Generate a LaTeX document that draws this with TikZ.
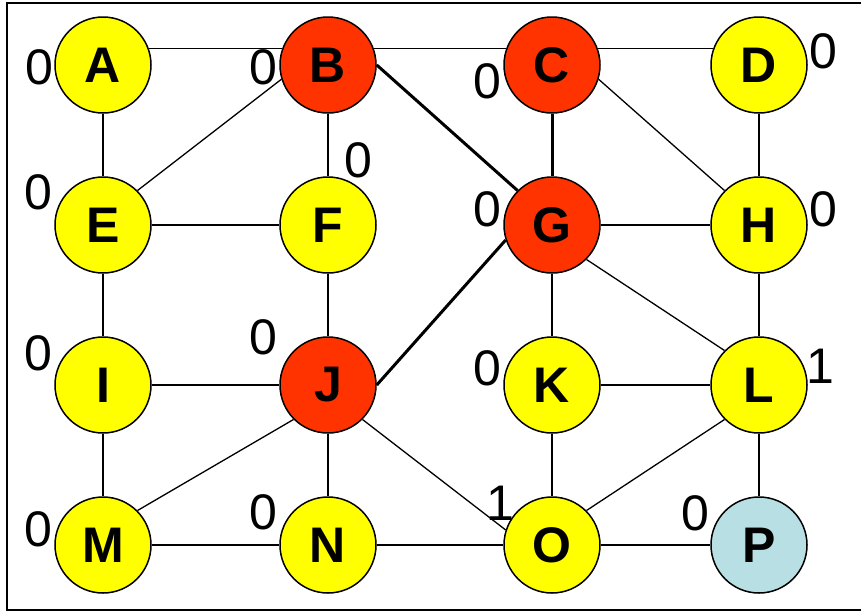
\documentclass[tikz,border=0pt]{standalone}
\usepackage{fontspec}
\setmainfont{Liberation Sans}
\usepackage{tikz}
\usetikzlibrary{positioning}

\definecolor{vyellow}{HTML}{FFFF00}
\definecolor{vred}{HTML}{FF3300}
\definecolor{vblue}{HTML}{B8DFE3}

\begin{document}
\begin{tikzpicture}[x=1pt, y=-1pt,
		vtx/.style={draw, circle, line width=1.5pt, minimum size=96pt, inner sep=0pt, fill=vyellow, font=\fontsize{50}{50}\selectfont\bfseries},
		hit/.style={vtx, fill=vred},
		goal/.style={vtx, fill=vblue},
		cnt/.style={inner sep=0pt, font=\fontsize{50}{50}\selectfont},
		link/.style={line width=1.3pt},
		route/.style={line width=3pt}]
				\useasboundingbox (0, 0) rectangle (861, 611);
				\draw[line width=2pt] (870, 3) -- (7, 3) -- (7, 610) -- (870, 610);
				
				% vertices
				\node[vtx] (A) at (103, 65) {A};
				\node[hit] (B) at (328, 65) {B};
				\node[hit] (C) at (552, 65) {C};
				\node[vtx] (D) at (759, 65) {D};
				\node[vtx] (E) at (103, 225) {E};
				\node[vtx] (F) at (328, 225) {F};
				\node[hit] (G) at (552, 225) {G};
				\node[vtx] (H) at (759, 225) {H};
				\node[vtx] (I) at (103, 385) {I};
				\node[hit] (J) at (328, 385) {J};
				\node[vtx] (K) at (552, 385) {K};
				\node[vtx] (L) at (759, 385) {L};
				\node[vtx] (M) at (103, 545) {M};
				\node[vtx] (N) at (328, 545) {N};
				\node[vtx] (O) at (552, 545) {O};
				\node[goal] (P) at (759, 545) {P};
				
				% counts
				\node[cnt] (cA) at (39, 67) {0};
				\node[cnt] (cB) at (263, 67) {0};
				\node[cnt] (cC) at (487, 81) {0};
				\node[cnt] (cD) at (823, 51) {0};
				\node[cnt] (cE) at (38, 192) {0};
				\node[cnt] (cF) at (358, 160) {0};
				\node[cnt] (cG) at (487, 209) {0};
				\node[cnt] (cH) at (823, 209) {0};
				\node[cnt] (cI) at (38, 353) {0};
				\node[cnt] (cJ) at (263, 337) {0};
				\node[cnt] (cK) at (487, 368) {0};
				\node[cnt] (cL) at (820, 366) {1};
				\node[cnt] (cM) at (38, 529) {0};
				\node[cnt] (cN) at (263, 512) {0};
				\node[cnt] (cO) at (500, 503) {1};
				\node[cnt] (cP) at (695, 513) {0};
				
				% edges
				\draw[link] (A.20) -- (B.160);
				\draw[link] (B.20) -- (C.160);
				\draw[link] (C.20) -- (D.160);
				\draw[link] (A) -- (E);
				\draw[link] (B.197) -- (E.45);
				\draw[link] (B) -- (F);
				\draw[link] (C.-17) -- (H.135);
				\draw[link] (D) -- (H);
				\draw[link] (E) -- (F);
				\draw[link] (G) -- (H);
				\draw[link] (E) -- (I);
				\draw[link] (F) -- (J);
				\draw[link] (G) -- (K);
				\draw[link] (G.-45) -- (L.135);
				\draw[link] (H) -- (L);
				\draw[link] (I) -- (J);
				\draw[link] (K) -- (L);
				\draw[link] (I) -- (M);
				\draw[link] (J.-135) -- (M.45);
				\draw[link] (J) -- (N);
				\draw[link] (J.-45) -- (O.162);
				\draw[link] (K) -- (O);
				\draw[link] (L.-135) -- (O.45);
				\draw[link] (L) -- (P);
				\draw[link] (M) -- (N);
				\draw[link] (N) -- (O);
				\draw[link] (O) -- (P);
				
				% path
				\draw[route] (B.east) -- (G.135);
				\draw[route] (C) -- (G);
				\draw[route] (G.198) -- (J.east);
			\end{tikzpicture}
\end{document}
